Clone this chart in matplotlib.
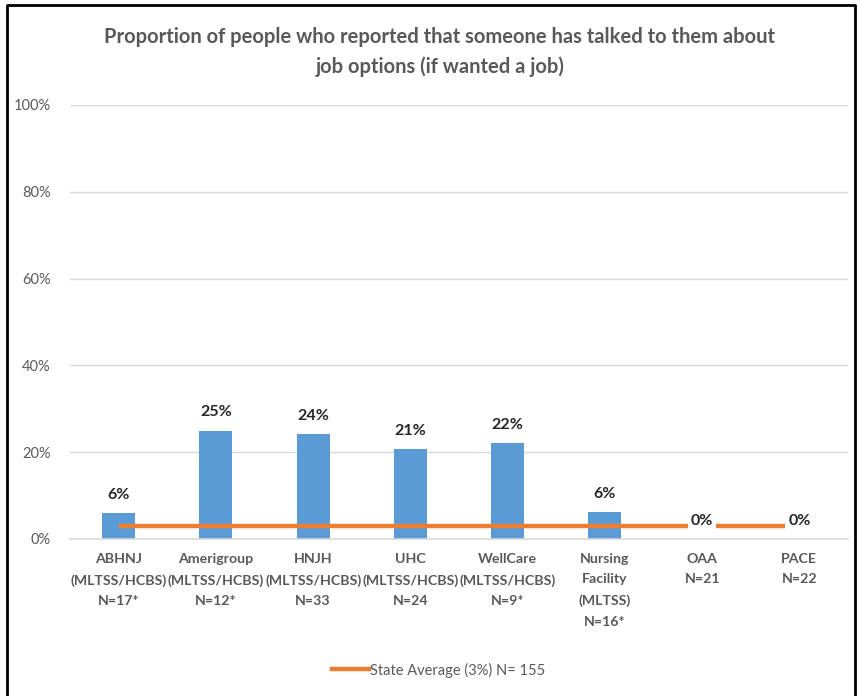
# Proportion of people told about job options - bar chart with state average line
import matplotlib.pyplot as plt
from matplotlib.lines import Line2D

plt.rcParams['font.family'] = ['Lato', 'DejaVu Sans']

categories = ["ABHNJ\n(MLTSS/HCBS)\nN=17*", "Amerigroup\n(MLTSS/HCBS)\nN=12*",
              "HNJH\n(MLTSS/HCBS)\nN=33", "UHC\n(MLTSS/HCBS)\nN=24",
              "WellCare\n(MLTSS/HCBS)\nN=9*", "Nursing\nFacility\n(MLTSS)\nN=16*",
              "OAA\nN=21", "PACE\nN=22"]
values = [5.9, 25.0, 24.2, 20.8, 22.2, 6.25, 0.0, 0.0]
state_avg = [3] * len(categories)
yticks = [0, 20, 40, 60, 80, 100]

blue = "#5B9BD5"
orange = "#ED7D31"
gray = "#595959"

fig = plt.figure(figsize=(8.58, 6.96), dpi=100)
ax = fig.add_axes([70 / 858, 157 / 696, 778 / 858, 434 / 696])

x = list(range(len(categories)))
ax.bar(x, values, width=0.34, color=blue, zorder=2)
ax.plot(x, state_avg, color=orange, lw=3.2, solid_capstyle="butt", zorder=3)

for xi, v in zip(x, values):
    ax.annotate(f"{round(v)}%", (xi, v), xytext=(0, 8), textcoords="offset points",
                ha="center", va="bottom", fontsize=11.5, fontweight="bold",
                color="#262626", zorder=4,
                bbox=dict(facecolor="white", edgecolor="none", pad=2) if v == 0 else None)

ax.set_xlim(-0.5, len(categories) - 0.5)
ax.set_ylim(0, 100)
ax.set_yticks(yticks)
ax.set_yticklabels([f"{t}%" for t in yticks], color=gray, fontsize=10.5)
ax.set_xticks(x)
ax.set_xticklabels(categories, color=gray, fontsize=10.2, fontweight="bold",
                   linespacing=1.85, va="top")
ax.tick_params(axis="both", length=0)
ax.tick_params(axis="x", pad=10)
ax.tick_params(axis="y", pad=14)
ax.grid(axis="y", color="#D9D9D9", lw=1, zorder=0)
for s in ["top", "right", "left"]:
    ax.spines[s].set_visible(False)
ax.spines["bottom"].set_color("#D9D9D9")
ax.spines["bottom"].set_linewidth(1.2)

fig.text(440 / 858, 1 - 37 / 696, "Proportion of people who reported that someone has talked to them about",
         ha="center", va="center", fontsize=14.5, color=gray, fontweight="bold")
fig.text(440 / 858, 1 - 67 / 696, "job options (if wanted a job)",
         ha="center", va="center", fontsize=14.5, color=gray, fontweight="bold")

handle = Line2D([], [], color=orange, lw=3.2)
fig.legend([handle], ["State Average (3%) N= 155"], loc="center",
           bbox_to_anchor=(439 / 858, 1 - 670 / 696), frameon=False,
           fontsize=10.5, labelcolor=gray, handlelength=2.5, handletextpad=0.1)

# outer border like the screenshot
fig.add_artist(Line2D([7 / 858, 7 / 858, 855 / 858, 855 / 858], [0, 1 - 5 / 696, 1 - 5 / 696, 0],
                      transform=fig.transFigure, color="black", lw=2))

fig.savefig("out.png", dpi=100)
